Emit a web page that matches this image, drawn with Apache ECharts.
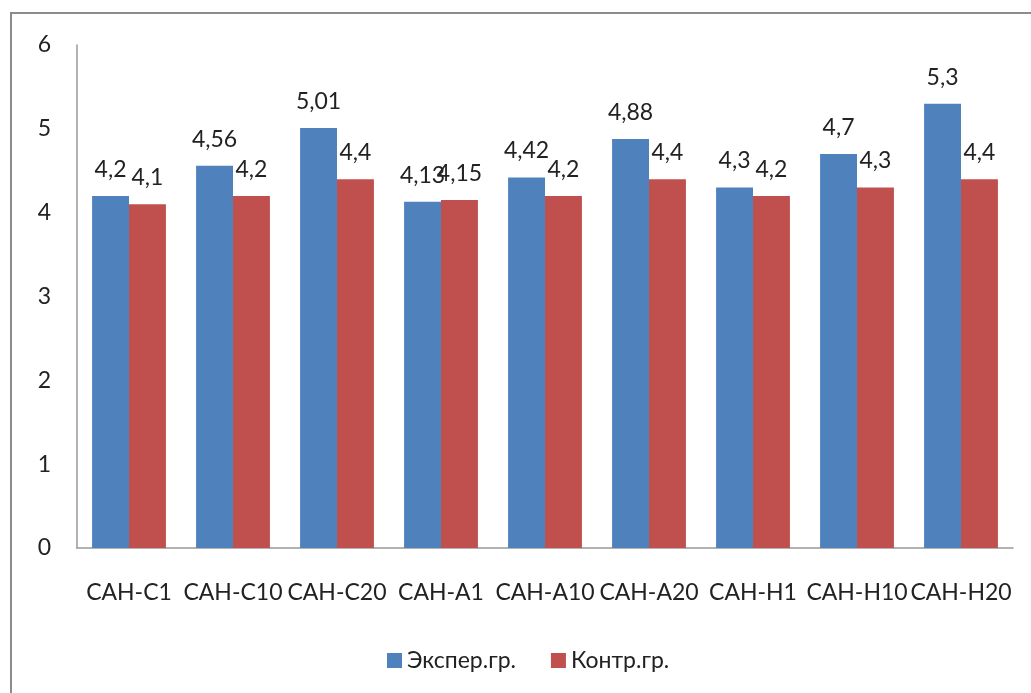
<!DOCTYPE html>
<html>
<head>
<meta charset="utf-8">
<script src="https://cdn.jsdelivr.net/npm/echarts@6/dist/echarts.min.js"></script>
<style>
html,body{margin:0;padding:0;background:#fff;}
#chart{width:1031px;height:693px;}
</style>
</head>
<body>
<div id="chart"></div>
<script>
const categories = ['САН-С1','САН-С10','САН-С20','САН-А1','САН-А10','САН-А20','САН-Н1','САН-Н10','САН-Н20'];
const expValues = [4.2, 4.56, 5.01, 4.13, 4.42, 4.88, 4.3, 4.7, 5.3];
const ctrlValues = [4.1, 4.2, 4.4, 4.15, 4.2, 4.4, 4.2, 4.3, 4.4];
const yTicks = [0, 1, 2, 3, 4, 5, 6];
const seriesNames = ['Экспер.гр.', 'Контр.гр.'];

const FONT = 'Lato, "Open Sans", sans-serif';
const FS = 23;
const comma = v => String(v).replace('.', ',');

const chart = echarts.init(document.getElementById('chart'));
chart.setOption({
  backgroundColor: '#fff',
  animation: false,
  textStyle: { fontFamily: FONT },
  graphic: [{
    type: 'rect',
    shape: { x: 11, y: 13, width: 1040, height: 700 },
    style: { fill: 'none', stroke: '#8c8c8c', lineWidth: 2 },
    silent: true, z: -1
  }],
  grid: { left: 77, right: 18, top: 45, bottom: 145 },
  legend: {
    data: seriesNames,
    top: 644,
    left: 382,
    itemWidth: 15, itemHeight: 15,
    itemGap: 35,
    icon: 'rect',
    textStyle: { fontFamily: FONT, fontSize: FS, color: '#222' }
  },
  xAxis: {
    type: 'category',
    data: categories,
    axisLine: { lineStyle: { color: '#999', width: 1.5 } },
    axisTick: { show: false },
    axisLabel: { fontFamily: FONT, fontSize: FS, color: '#222', margin: 33, interval: 0 }
  },
  yAxis: {
    type: 'value',
    min: yTicks[0], max: yTicks[yTicks.length - 1], interval: 1,
    splitLine: { show: false },
    axisLine: { show: true, lineStyle: { color: '#999', width: 1.5 } },
    axisTick: { show: false },
    axisLabel: { fontFamily: FONT, fontSize: FS, color: '#222', margin: 26 }
  },
  series: [
    {
      name: seriesNames[0], type: 'bar', data: expValues,
      itemStyle: { color: '#4F81BD' },
      barGap: '0%', barCategoryGap: '29%',
      label: { show: true, position: 'top', distance: 15, fontFamily: FONT, fontSize: FS, color: '#222', formatter: p => comma(p.value) }
    },
    {
      name: seriesNames[1], type: 'bar', data: ctrlValues,
      itemStyle: { color: '#C0504D' },
      barGap: '0%', barCategoryGap: '29%',
      label: { show: true, position: 'top', distance: 15, fontFamily: FONT, fontSize: FS, color: '#222', formatter: p => comma(p.value) }
    }
  ]
});
</script>
</body>
</html>
